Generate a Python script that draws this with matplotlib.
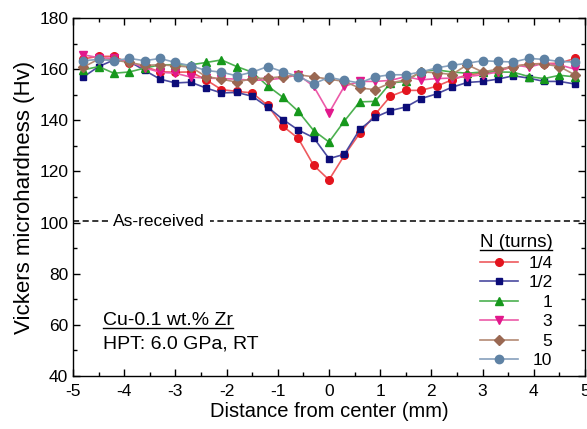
import matplotlib
matplotlib.use("Agg")
import matplotlib.pyplot as plt
from matplotlib.ticker import MultipleLocator
from matplotlib.lines import Line2D
import numpy as np

plt.rcParams['font.family'] = ['Liberation Sans', 'DejaVu Sans']
plt.rcParams['axes.unicode_minus'] = False

distance = [-4.8, -4.5, -4.2, -3.9, -3.6, -3.3, -3.0, -2.7, -2.4, -2.1, -1.8, -1.5, -1.2, -0.9, -0.6, -0.3,
            0.0, 0.3, 0.6, 0.9, 1.2, 1.5, 1.8, 2.1, 2.4, 2.7, 3.0, 3.3, 3.6, 3.9, 4.2, 4.5, 4.8]

hv_quarter = [164.0, 165.0, 165.0, 162.3, 161.0, 159.0, 158.8, 158.9, 155.8, 152.0, 151.3, 150.7, 145.9, 137.7, 132.9, 122.4,
              116.7, 126.3, 134.9, 142.3, 149.4, 151.7, 151.7, 153.3, 155.8, 157.8, 158.4, 159.2, 161.0, 162.0, 162.2, 162.3, 164.2]
hv_half = [156.9, 161.0, 163.6, 163.0, 159.5, 156.1, 154.6, 154.9, 152.6, 150.7, 150.9, 149.4, 145.2, 140.3, 136.2, 133.2,
           125.0, 126.7, 136.4, 141.2, 143.8, 145.2, 148.5, 150.3, 152.9, 154.8, 155.2, 156.1, 157.4, 156.5, 155.2, 155.2, 154.2]
hv_one = [159.7, 161.0, 158.4, 158.9, 160.4, 161.7, 161.7, 161.7, 162.6, 163.6, 161.0, 158.8, 153.5, 149.0, 143.5, 136.0,
          131.5, 139.7, 147.2, 147.4, 154.6, 155.2, 159.1, 159.7, 158.9, 158.4, 158.9, 158.9, 158.8, 157.1, 156.3, 157.6, 157.0]
hv_three = [165.6, 164.5, 164.2, 163.0, 160.5, 158.8, 158.4, 156.9, 156.5, 156.3, 156.1, 155.6, 155.8, 156.5, 157.8, 153.3,
            142.9, 153.3, 155.2, 155.2, 155.6, 157.1, 155.8, 156.3, 156.5, 157.1, 157.8, 158.9, 161.7, 160.8, 162.3, 161.7, 160.0]
hv_five = [160.8, 163.9, 163.6, 162.6, 161.5, 161.7, 161.3, 160.8, 157.1, 156.1, 154.9, 156.3, 156.5, 157.1, 157.8, 157.0,
           156.1, 155.2, 152.6, 152.0, 154.6, 155.8, 158.9, 158.6, 157.9, 161.7, 158.9, 160.0, 161.0, 162.0, 162.0, 161.0, 157.8]
hv_ten = [163.3, 163.8, 163.3, 164.2, 163.3, 164.2, 162.6, 161.3, 159.5, 158.8, 157.4, 158.8, 161.0, 159.0, 157.1, 154.3,
          156.8, 155.6, 154.6, 157.0, 157.8, 157.8, 158.9, 160.5, 161.5, 162.3, 163.3, 163.0, 162.8, 164.2, 163.8, 163.0, 162.8]

as_received = 100.5
labels = ['1/4', '1/2', '1', '3', '5', '10']
series = [hv_quarter, hv_half, hv_one, hv_three, hv_five, hv_ten]
colors = ['#e3141e', '#0c0c78', '#16981c', '#e2188c', '#9a6852', '#5f82a4']
line_colors = ['#ee5a5e', '#4a4aa0', '#4cb050', '#ec5aa8', '#b48a74', '#86a0bc']
markers = ['o', 's', '^', 'v', 'D', 'o']
msizes = [5.5, 5, 5.5, 5.5, 5, 6]

fig = plt.figure(figsize=(5.87, 4.29), dpi=100)
ax = fig.add_axes([73/587, (429-376)/429, (585-73)/587, (376-18)/429])

handles = []
for y, c, lc, m, ms, lab in zip(series, colors, line_colors, markers, msizes, labels):
    h, = ax.plot(distance, y, color=lc, lw=1.2, marker=m, ms=ms, mfc=c, mec=c, label=lab)
    handles.append(h)

ax.axhline(as_received, color='black', lw=1.1, ls=(0, (4, 2.3)), zorder=1)
ax.text(-3.32, as_received, 'As-received', ha='center', va='center', fontsize=12.5,
        bbox=dict(facecolor='white', edgecolor='none', pad=4), zorder=2)

ax.set_xlim(-5, 5)
ax.set_ylim(40, 180)
ax.xaxis.set_major_locator(MultipleLocator(1))
ax.xaxis.set_minor_locator(MultipleLocator(0.5))
ax.yaxis.set_major_locator(MultipleLocator(20))
ax.yaxis.set_minor_locator(MultipleLocator(10))
ax.tick_params(which='both', direction='in', top=True, right=True, labelsize=12.5, width=1)
ax.tick_params(which='major', length=5)
ax.tick_params(which='minor', length=3)
ax.tick_params(axis='x', pad=6)
for s in ax.spines.values():
    s.set_linewidth(1)
ax.set_xlabel('Distance from center (mm)', fontsize=14.5, labelpad=2)
ax.set_ylabel('Vickers microhardness (Hv)', fontsize=16, labelpad=3)

leg = ax.legend(handles=handles, loc='lower right', bbox_to_anchor=(0.967, -0.022), frameon=False,
                fontsize=12.5, handlelength=2.2, handletextpad=0.6, labelspacing=0.25,
                title='N (turns)', title_fontsize=13.5)

t1 = ax.text(0.0586, 0.1425, 'Cu-0.1 wt.% Zr', transform=ax.transAxes, fontsize=14, ha='left', va='baseline')
t2 = ax.text(0.0586, 0.078, 'HPT: 6.0 GPa, RT', transform=ax.transAxes, fontsize=14, ha='left', va='baseline')

fig.canvas.draw()
r = fig.canvas.get_renderer()
# right-align legend labels
texts = leg.get_texts()
ws = [t.get_window_extent(r).width for t in texts]
mw = max(ws)
for t, w in zip(texts, ws):
    t.set_position((mw - w, 0))

def underline(t):
    bb = t.get_window_extent(r)
    x0, x1 = bb.x0, bb.x1
    yb = bb.y0 + 1.0
    (fx0, fy), (fx1, _) = fig.transFigure.inverted().transform([(x0, yb), (x1, yb)])
    fig.add_artist(Line2D([fx0, fx1], [fy, fy], color='black', lw=1.0, transform=fig.transFigure))

underline(t1)
underline(leg.get_title())

fig.savefig('out.png', dpi=100)
